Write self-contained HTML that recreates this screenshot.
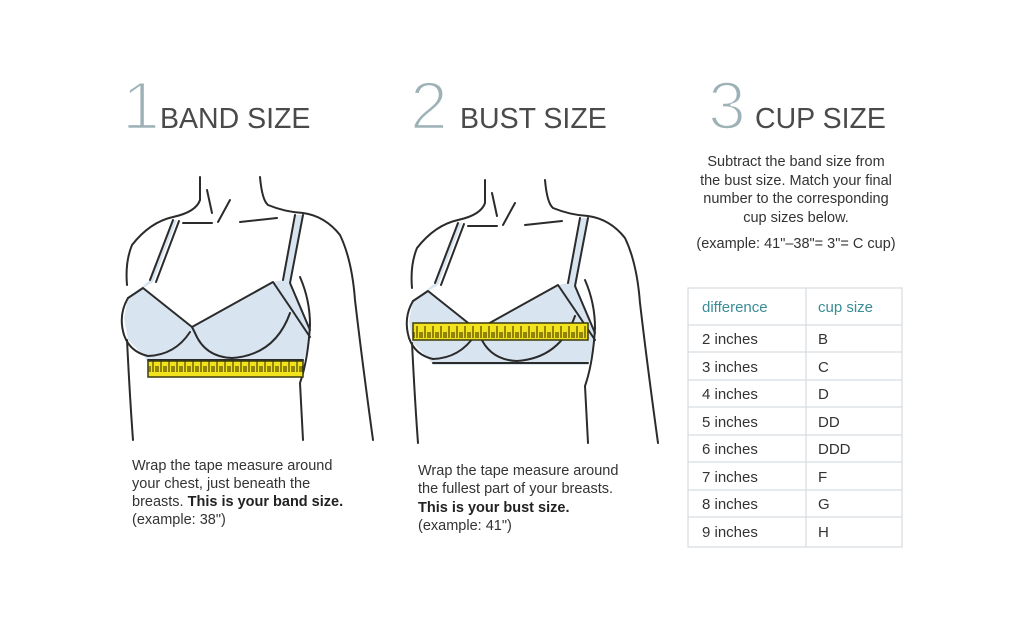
<!DOCTYPE html>
<html><head><meta charset="utf-8"><style>
html,body{margin:0;padding:0;background:#fff;}
svg{display:block;}
text{font-family:"Liberation Sans",sans-serif;}
</style></head><body>
<svg width="1024" height="630" viewBox="0 0 1024 630" xmlns="http://www.w3.org/2000/svg">
<defs>
<pattern id="tk" x="0" y="0" width="8" height="17" patternUnits="userSpaceOnUse">
<rect width="8" height="17" fill="#f3e31c"/>
<path d="M1 3V15M4 9V15M6 9V15" stroke="#5a5200" stroke-width="1.3"/>
</pattern>
<g id="fig">
<path d="M150 280 L173 220 L177 220 L153 282 L143 288 L192 327 L273 282 L283 280 L295 215 L303 215 L290 283 L310 330 L310 340 L303 362 L148 362 L143 355 L128 340 L124 318 L128 298 Z" fill="#d8e5f1"/>
<g fill="none" stroke="#2b2b2b" stroke-width="2" stroke-linecap="round" stroke-linejoin="round">
<path d="M200 177 L200 200 Q196 212 173 217 Q150 222 132 245 Q125 262 127 285"/>
<path d="M260 177 Q262 200 268 205 Q285 212 303 213 Q325 216 340 235 Q352 260 355 300 Q362 360 373 440"/>
<path d="M300 277 Q310 300 310 325 Q308 360 300 383 L303 440"/>
<path d="M183 223 L212 223 M240 222 L277 218"/>
<path d="M207 190 L212 213 M230 200 L218 222"/>
<path d="M127 340 Q130 400 133 440"/>
<path d="M173 220 L150 280 M179 221 L156 282"/>
<path d="M295 215 L283 280 M303 215 L290 283 L310 330"/>
<path d="M128 298 L143 288 L192 327 L273 282 L292 310 L310 337"/>
<path d="M128 298 Q118 315 124 335 Q130 352 148 356 Q175 355 190 332"/>
<path d="M195 333 Q205 357 232 358 Q275 355 290 313"/>
<path d="M192 327 L195 333"/>
<path d="M148 360 L303 360"/>
</g>
</g>
</defs>

<g font-size="68" fill="#9db2b7" stroke="#fff" stroke-width="2.5">
<text x="122" y="129">1</text>
<text x="410" y="129">2</text>
<text x="708" y="129">3</text>
</g>
<g font-size="28.5" fill="#4a4a4a">
<text x="160" y="128">BAND SIZE</text>
<text x="460" y="128">BUST SIZE</text>
<text x="755" y="128">CUP SIZE</text>
</g>

<use href="#fig"/>
<rect x="148" y="361" width="155" height="16" fill="url(#tk)" stroke="#3a3a10" stroke-width="1.5"/>

<use href="#fig" transform="translate(285,3)"/>
<rect x="413" y="323" width="175" height="17" fill="url(#tk)" stroke="#3a3a10" stroke-width="1.5"/>

<g font-size="14.5" fill="#333">
<text x="132" y="470">Wrap the tape measure around</text>
<text x="132" y="488">your chest, just beneath the</text>
<text x="132" y="506">breasts. <tspan font-weight="bold" fill="#222">This is your band size.</tspan></text>
<text x="132" y="524">(example: 38")</text>
<text x="418" y="475">Wrap the tape measure around</text>
<text x="418" y="493">the fullest part of your breasts.</text>
<text x="418" y="512" font-weight="bold" fill="#222">This is your bust size.</text>
<text x="418" y="530">(example: 41")</text>
</g>
<g font-size="14.5" fill="#333" text-anchor="middle">
<text x="796" y="166">Subtract the band size from</text>
<text x="796" y="185">the bust size. Match your final</text>
<text x="796" y="203">number to the corresponding</text>
<text x="796" y="222">cup sizes below.</text>
<text x="796" y="248">(example: 41"–38"= 3"= C cup)</text>
</g>

<g stroke="#d6dde0" stroke-width="1.2" fill="none">
<rect x="688" y="288" width="214" height="259"/>
<line x1="806" y1="288" x2="806" y2="547"/>
<line x1="688" y1="325" x2="902" y2="325"/>
<line x1="688" y1="352" x2="902" y2="352"/>
<line x1="688" y1="380" x2="902" y2="380"/>
<line x1="688" y1="407" x2="902" y2="407"/>
<line x1="688" y1="435" x2="902" y2="435"/>
<line x1="688" y1="462" x2="902" y2="462"/>
<line x1="688" y1="490" x2="902" y2="490"/>
<line x1="688" y1="517" x2="902" y2="517"/>
</g>
<g font-size="15" fill="#333">
<text x="702" y="312" fill="#3b8c96">difference</text>
<text x="818" y="312" fill="#3b8c96">cup size</text>
<text x="702" y="344">2 inches</text><text x="818" y="344">B</text>
<text x="702" y="372">3 inches</text><text x="818" y="372">C</text>
<text x="702" y="399">4 inches</text><text x="818" y="399">D</text>
<text x="702" y="427">5 inches</text><text x="818" y="427">DD</text>
<text x="702" y="454">6 inches</text><text x="818" y="454">DDD</text>
<text x="702" y="482">7 inches</text><text x="818" y="482">F</text>
<text x="702" y="509">8 inches</text><text x="818" y="509">G</text>
<text x="702" y="537">9 inches</text><text x="818" y="537">H</text>
</g>
</svg>
</body></html>
